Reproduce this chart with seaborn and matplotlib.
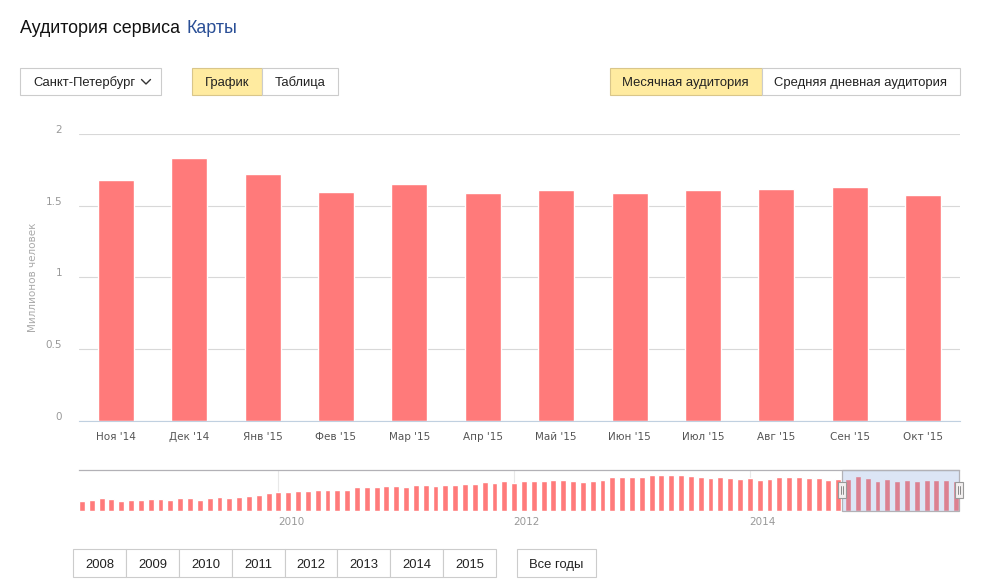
import numpy as np
import pandas as pd
import matplotlib
matplotlib.use("Agg")
import matplotlib.pyplot as plt
import seaborn as sns
from matplotlib.patches import Rectangle
from matplotlib.lines import Line2D
from matplotlib.transforms import ScaledTranslation

# main chart: monthly audience, millions of people
months = ["Ноя '14", "Дек '14", "Янв '15", "Фев '15", "Мар '15", "Апр '15",
          "Май '15", "Июн '15", "Июл '15", "Авг '15", "Сен '15", "Окт '15"]
audience = [1.678, 1.832, 1.720, 1.595, 1.650, 1.588,
            1.608, 1.588, 1.608, 1.615, 1.629, 1.573]

# navigator history, May 2008 .. Oct 2014
history = [0.51, 0.565, 0.67, 0.62, 0.51, 0.565, 0.565, 0.62,
           0.62, 0.565, 0.67, 0.67, 0.565, 0.67, 0.72, 0.67, 0.72, 0.78, 0.83, 0.93,
           0.985, 0.985, 1.04, 1.04, 1.09, 1.09, 1.09, 1.09, 1.25, 1.25, 1.25, 1.30,
           1.30, 1.25, 1.36, 1.36, 1.30, 1.36, 1.36, 1.41, 1.41, 1.515, 1.46, 1.57,
           1.46, 1.57, 1.57, 1.57, 1.62, 1.62, 1.57, 1.515, 1.57, 1.62, 1.78, 1.78,
           1.78, 1.78, 1.88, 1.88, 1.88, 1.88, 1.83, 1.78, 1.73, 1.78, 1.73, 1.70,
           1.73, 1.62, 1.67, 1.78, 1.78, 1.78, 1.73, 1.73, 1.62, 1.67]
first_month = 5   # May
first_year = 2008
nav_years = [2010, 2012, 2014]
year_buttons = ["2008", "2009", "2010", "2011", "2012", "2013", "2014", "2015"]

W, H = 1005, 585
BAR = "#ff7a7a"
UI = "Liberation Sans"

sns.set_style("white")
plt.rcParams["font.family"] = ["DejaVu Sans"]

fig = plt.figure(figsize=(W / 100, H / 100), dpi=100)


def fx(x):
    return x / W


def fy(y):
    return 1 - y / H


# ---- main bar chart
ax = fig.add_axes([fx(79), fy(420.5), (960 - 79) / W, (420.5 - 134) / H])
df = pd.DataFrame({"month": months, "value": audience})
sns.barplot(data=df, x="month", y="value", color=BAR, saturation=1, width=0.49, ax=ax)
ax.set_xlim(-0.5, len(months) - 0.5)
ax.set_ylim(0, 2)
ax.set_yticks([0, 0.5, 1, 1.5, 2])
ax.set_yticklabels(["0", "0.5", "1", "1.5", "2"])
ax.yaxis.grid(True, color="#d8d8d8", lw=0.8)
ax.xaxis.grid(False)
ax.set_axisbelow(True)
for s in ["top", "right", "left"]:
    ax.spines[s].set_visible(False)
ax.spines["bottom"].set_color("#c0d0e0")
ax.spines["bottom"].set_linewidth(0.8)
ax.tick_params(axis="x", length=6, width=0.8, color="#c0d0e0", pad=2,
               labelsize=7.5, labelcolor="#555555")
ax.tick_params(axis="y", length=0, pad=12, labelsize=7.5, labelcolor="#999999")
ax.set_xlabel("")
ax.set_ylabel("")
off = ScaledTranslation(0, 5 / 100, fig.dpi_scale_trans)
for lab in ax.get_yticklabels():
    lab.set_transform(lab.get_transform() + off)

fig.text(fx(33), fy(277), "Миллионов человек", rotation=90, ha="center", va="center",
         fontsize=7.5, color="#aaaaaa")

# ---- navigator
nav = history + audience
nav_df = pd.DataFrame({"idx": np.arange(len(nav)), "value": nav})
axn = fig.add_axes([fx(79), fy(510.7), (959 - 79) / W, (510.7 - 470) / H])
sns.barplot(data=nav_df, x="idx", y="value", color=BAR, saturation=1, width=0.6, ax=axn)
axn.set_xlim(-0.3, len(nav) - 0.7)
axn.set_ylim(0, 2.15)
axn.set_xticks([])
axn.set_yticks([])
axn.set_xlabel("")
axn.set_ylabel("")
for s in ["bottom", "right", "left"]:
    axn.spines[s].set_visible(False)
axn.spines["top"].set_color("#b2b1b6")
axn.spines["top"].set_linewidth(0.9)

for yr in nav_years:
    i = (yr - first_year) * 12 + (1 - first_month)
    axn.axvline(i, color="#e8e8e8", lw=0.8, zorder=0)
    axn.text(i + 1.3, -0.27, str(yr), transform=axn.get_xaxis_transform(),
             ha="center", va="center", fontsize=7.5, color="#999999")

sel0 = len(history) - 0.6
sel1 = len(nav) - 0.7
axn.add_patch(Rectangle((sel0, 0), sel1 - sel0, 1, transform=axn.get_xaxis_transform(),
                        facecolor=(110 / 255, 150 / 255, 215 / 255, 0.24),
                        edgecolor="#b2b1b6", lw=0.9, zorder=5, clip_on=False))
for hx in [sel0, sel1]:
    axn.add_patch(Rectangle((hx - 0.4, 0.31), 0.8, 0.39, transform=axn.get_xaxis_transform(),
                            facecolor="#f2efef", edgecolor="#999999", lw=0.8,
                            zorder=6, clip_on=False))
    for dx in [-0.12, 0.12]:
        axn.add_line(Line2D([hx + dx, hx + dx], [0.41, 0.6], transform=axn.get_xaxis_transform(),
                            color="#777777", lw=0.6, zorder=7, clip_on=False))


# ---- UI elements
def button(x0, x1, y0, y1, label, fill="white", edge="#cccccc", tx=None, ha="center"):
    fig.add_artist(Rectangle((fx(x0), fy(y1)), (x1 - x0) / W, (y1 - y0) / H,
                             transform=fig.transFigure, facecolor=fill, edgecolor=edge, lw=0.8))
    if label:
        xt = (x0 + x1) / 2 if tx is None else tx
        fig.text(fx(xt), fy((y0 + y1) / 2 + 4.7), label, ha=ha, va="baseline",
                 fontsize=9.4, color="#222222", family=UI)


t1 = fig.text(fx(20), fy(33), "Аудитория сервиса", ha="left", va="baseline",
              fontsize=12.9, color="#111111", family=UI)
fig.canvas.draw()
bb = t1.get_window_extent()
fig.text((bb.x1 + 6) / W, fy(33), "Карты", ha="left", va="baseline",
         fontsize=12.9, color="#2a4f96", family=UI)

YEL, YEL_EDGE = "#ffeba0", "#d9c68a"
button(20, 160.5, 68, 94.5, "Санкт-Петербург", tx=33, ha="left")
fig.add_artist(Line2D([fx(141.5), fx(146), fx(150.5)], [fy(79.5), fy(84), fy(79.5)],
                      transform=fig.transFigure, color="#333333", lw=1.0))
button(191.5, 262, 68, 94.5, "График", fill=YEL, edge=YEL_EDGE)
button(262, 337.5, 68, 94.5, "Таблица")
button(609.5, 761.5, 68, 94.5, "Месячная аудитория", fill=YEL, edge=YEL_EDGE)
button(761.5, 959.5, 68, 94.5, "Средняя дневная аудитория")

edges = [73, 126, 179, 232, 285, 337, 390, 443, 496]
for k, lab in enumerate(year_buttons):
    button(edges[k], edges[k + 1], 549, 577, lab)
button(517, 596, 549, 577, "Все годы")

fig.savefig("out.png", dpi=100)
